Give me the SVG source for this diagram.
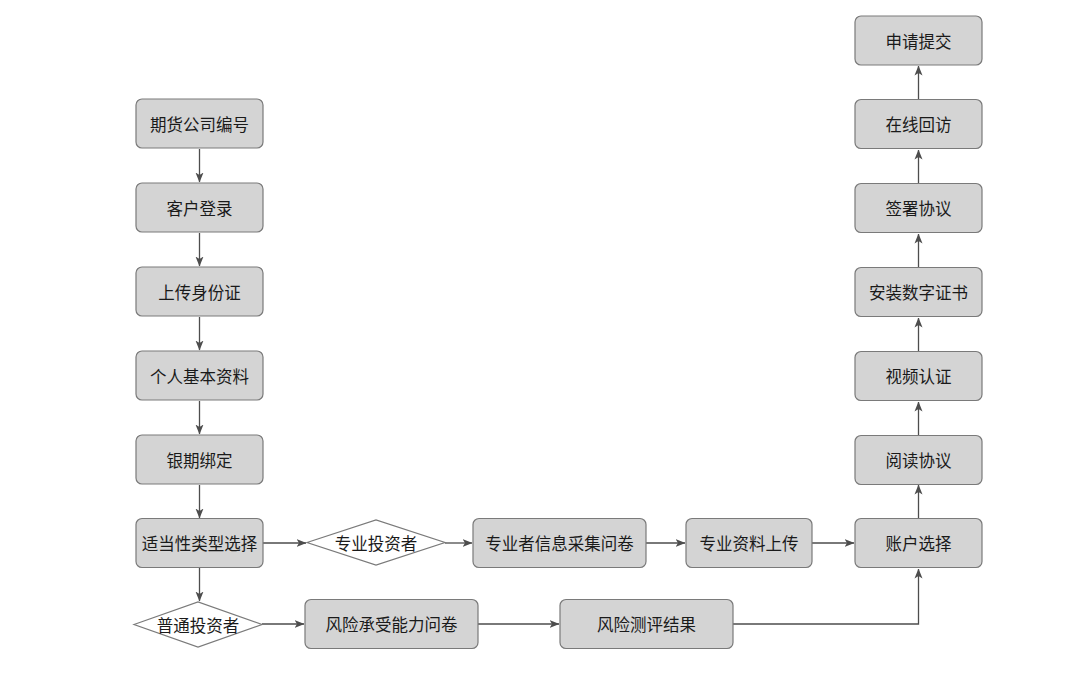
<svg xmlns="http://www.w3.org/2000/svg" width="1076" height="700" viewBox="0 0 1076 700">
<style>
.b{fill:#d4d4d4;stroke:#7a7a7a;stroke-width:1.2}
.d{fill:#ffffff;stroke:#7a7a7a;stroke-width:1.2}
.t{font-family:"Noto Sans CJK SC","Liberation Sans",sans-serif;font-size:16.5px;fill:#1a1a1a;text-anchor:middle;dominant-baseline:central}
.c{fill:none;stroke:#4d4d4d;stroke-width:1.3}
</style>
<defs>
<marker id="a" viewBox="0 0 10 10" refX="9.5" refY="5" markerWidth="10" markerHeight="10" markerUnits="userSpaceOnUse" orient="auto">
<path d="M0,1 L10,5 L0,9 L2.5,5 Z" fill="#4d4d4d"/>
</marker>
</defs>
<rect width="1076" height="700" fill="#ffffff"/>
<g id="connectors">
<line class="c" x1="199.5" y1="149" x2="199.5" y2="182" marker-end="url(#a)"/>
<line class="c" x1="199.5" y1="233" x2="199.5" y2="266" marker-end="url(#a)"/>
<line class="c" x1="199.5" y1="317" x2="199.5" y2="350" marker-end="url(#a)"/>
<line class="c" x1="199.5" y1="401" x2="199.5" y2="434" marker-end="url(#a)"/>
<line class="c" x1="199.5" y1="485" x2="199.5" y2="518" marker-end="url(#a)"/>
<line class="c" x1="199.5" y1="568" x2="199.5" y2="601" marker-end="url(#a)"/>
<line class="c" x1="263" y1="543" x2="306" y2="543" marker-end="url(#a)"/>
<line class="c" x1="445" y1="543" x2="472" y2="543" marker-end="url(#a)"/>
<line class="c" x1="646" y1="543" x2="685" y2="543" marker-end="url(#a)"/>
<line class="c" x1="812" y1="543" x2="854" y2="543" marker-end="url(#a)"/>
<line class="c" x1="262" y1="624" x2="304" y2="624" marker-end="url(#a)"/>
<line class="c" x1="478" y1="624" x2="559" y2="624" marker-end="url(#a)"/>
<polyline class="c" points="733,624 918.5,624 918.5,569" marker-end="url(#a)"/>
<line class="c" x1="918.5" y1="518" x2="918.5" y2="485" marker-end="url(#a)"/>
<line class="c" x1="918.5" y1="435" x2="918.5" y2="402" marker-end="url(#a)"/>
<line class="c" x1="918.5" y1="351" x2="918.5" y2="318" marker-end="url(#a)"/>
<line class="c" x1="918.5" y1="267" x2="918.5" y2="234" marker-end="url(#a)"/>
<line class="c" x1="918.5" y1="183" x2="918.5" y2="150" marker-end="url(#a)"/>
<line class="c" x1="918.5" y1="99" x2="918.5" y2="66" marker-end="url(#a)"/>
</g>
<g id="n1"><rect class="b" x="136" y="99" width="127" height="49" rx="6"/><text class="t" x="199.5" y="123.5">期货公司编号</text></g>
<g id="n2"><rect class="b" x="136" y="183" width="127" height="49" rx="6"/><text class="t" x="199.5" y="207.5">客户登录</text></g>
<g id="n3"><rect class="b" x="136" y="267" width="127" height="49" rx="6"/><text class="t" x="199.5" y="291.5">上传身份证</text></g>
<g id="n4"><rect class="b" x="136" y="351" width="127" height="49" rx="6"/><text class="t" x="199.5" y="375.5">个人基本资料</text></g>
<g id="n5"><rect class="b" x="136" y="435" width="127" height="49" rx="6"/><text class="t" x="199.5" y="459.5">银期绑定</text></g>
<g id="n6"><rect class="b" x="136" y="518.5" width="127" height="49" rx="6"/><text class="t" x="199.5" y="543">适当性类型选择</text></g>
<g id="n7"><polygon class="d" points="134,624.5 198,602 262,624.5 198,647"/><text class="t" x="198" y="624.5">普通投资者</text></g>
<g id="n8"><polygon class="d" points="307,542.5 376,520 445,542.5 376,565"/><text class="t" x="376" y="542.5">专业投资者</text></g>
<g id="n9"><rect class="b" x="473" y="518.5" width="173" height="49" rx="6"/><text class="t" x="559.5" y="543">专业者信息采集问卷</text></g>
<g id="n10"><rect class="b" x="686" y="518.5" width="126" height="49" rx="6"/><text class="t" x="749" y="543">专业资料上传</text></g>
<g id="n11"><rect class="b" x="855" y="518.5" width="127" height="49" rx="6"/><text class="t" x="918.5" y="543">账户选择</text></g>
<g id="n12"><rect class="b" x="305" y="599.5" width="173" height="49" rx="6"/><text class="t" x="391.5" y="624">风险承受能力问卷</text></g>
<g id="n13"><rect class="b" x="560" y="599.5" width="173" height="49" rx="6"/><text class="t" x="646.5" y="624">风险测评结果</text></g>
<g id="n14"><rect class="b" x="855" y="435.5" width="127" height="49" rx="6"/><text class="t" x="918.5" y="460">阅读协议</text></g>
<g id="n15"><rect class="b" x="855" y="351.5" width="127" height="49" rx="6"/><text class="t" x="918.5" y="376">视频认证</text></g>
<g id="n16"><rect class="b" x="855" y="267.5" width="127" height="49" rx="6"/><text class="t" x="918.5" y="292">安装数字证书</text></g>
<g id="n17"><rect class="b" x="855" y="183.5" width="127" height="49" rx="6"/><text class="t" x="918.5" y="208">签署协议</text></g>
<g id="n18"><rect class="b" x="855" y="99.5" width="127" height="49" rx="6"/><text class="t" x="918.5" y="124">在线回访</text></g>
<g id="n19"><rect class="b" x="855" y="16" width="127" height="49" rx="6"/><text class="t" x="918.5" y="40.5">申请提交</text></g>
</svg>
